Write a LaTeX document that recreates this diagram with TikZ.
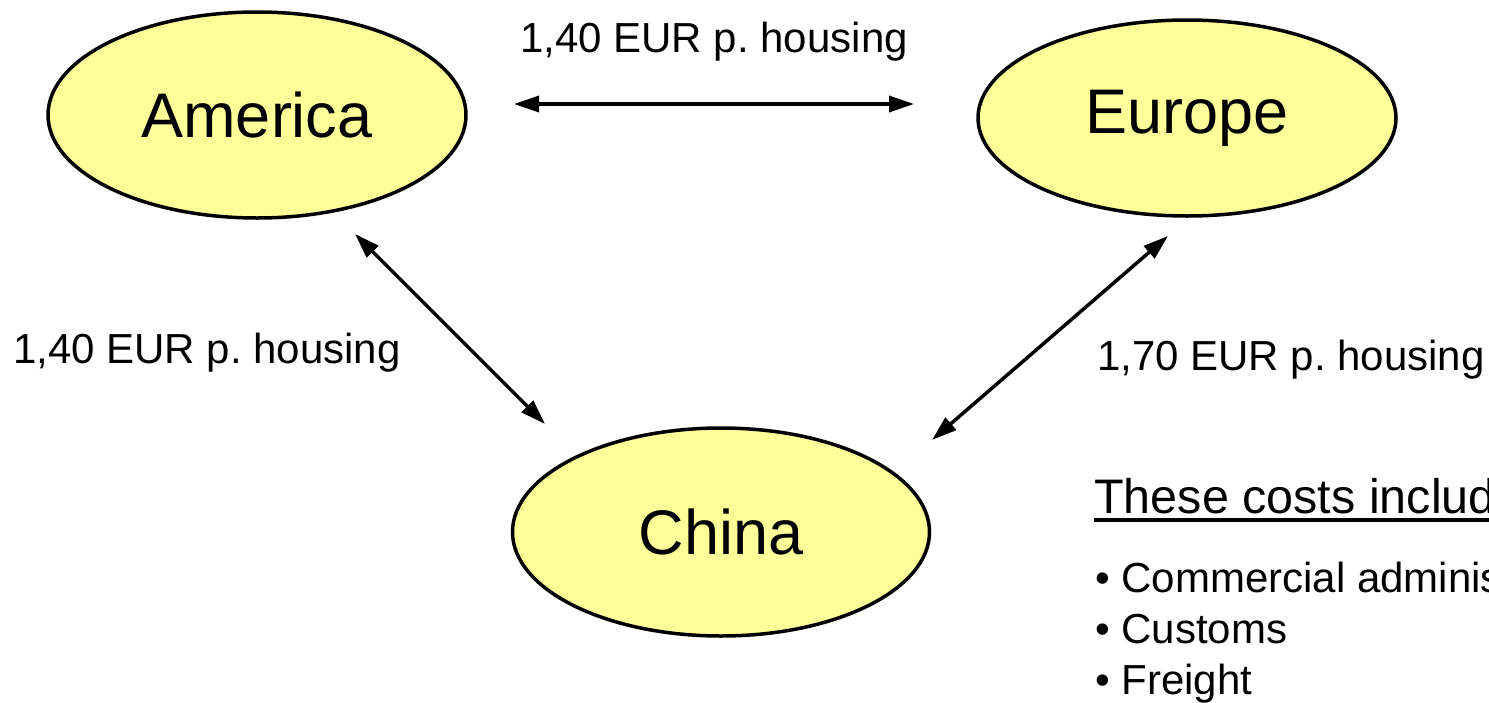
\documentclass[tikz,border=0pt]{standalone}
\usepackage{fontspec}
\setmainfont{Liberation Sans}
\usetikzlibrary{shapes.geometric,arrows.meta}
\begin{document}
\frenchspacing
\begin{tikzpicture}[x=1pt,y=-1pt,
  region/.style={ellipse,draw=black,line width=3.5pt,fill=regionfill,inner sep=0pt,font=\fontsize{63}{70}\selectfont},
  link/.style={line width=3.5pt,{Triangle[length=25pt,width=16pt]}-{Triangle[length=25pt,width=16pt]}},
  lbl/.style={inner sep=0pt,anchor=base,font=\fontsize{42}{50}\selectfont},
  note/.style={inner sep=0pt,anchor=base west,font=\fontsize{42}{50}\selectfont}
]
\definecolor{regionfill}{RGB}{255,255,153}
\useasboundingbox (0,0) rectangle (1489,702);
\node[region,minimum width=418pt,minimum height=206pt] (america) at (257,115) {America};
\node[region,minimum width=418pt,minimum height=196pt] (europe) at (1187,118) {Europe};
\node[region,minimum width=417pt,minimum height=208pt] (china) at (721,532) {China};
\coordinate (ae1) at (514,104);
\coordinate (ae2) at (914,104);
\coordinate (ac1) at (355,234);
\coordinate (ac2) at (545,424);
\coordinate (ec1) at (1168,236);
\coordinate (ec2) at (932,440);
\draw[link] (ae1) -- (ae2);
\draw[link] (ac1) -- (ac2);
\draw[link] (ec1) -- (ec2);
\node[lbl] (l1) at (714,52) {1,40 EUR p. housing};
\node[lbl] (l2) at (207,363) {1,40 EUR p. housing};
\node[lbl,anchor=base west] (l3) at (1097,370) {1,70 EUR p. housing};
\node[note,font=\fontsize{48.5}{50}\selectfont] (h) at (1094,513) {These costs include:};
\draw[line width=4pt] ([yshift=-6.5pt]h.base west) -- ([yshift=-6.5pt]h.base east);
\node[note] (b1) at (1095,592) {\textbullet{} Commercial administration};
\node[note] (b2) at (1095,643) {\textbullet{} Customs};
\node[note] (b3) at (1095,694) {\textbullet{} Freight};
\end{tikzpicture}
\end{document}
